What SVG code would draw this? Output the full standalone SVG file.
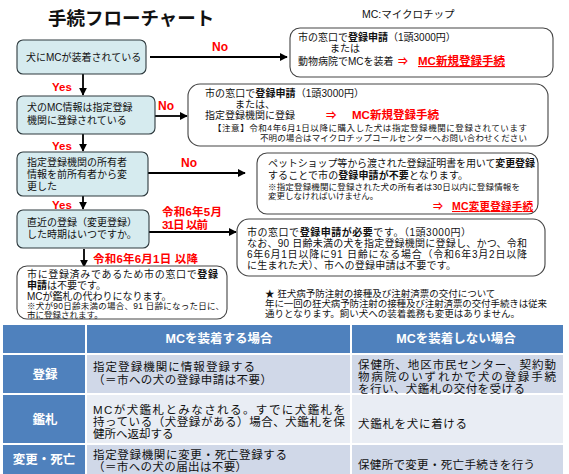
<svg xmlns="http://www.w3.org/2000/svg" width="569" height="474" viewBox="0 0 569 474">
<defs>
<style>
text{font-family:"Liberation Sans","Noto Sans CJK JP",sans-serif;fill:#111}
.q{fill:#d6ebef;stroke:#2e3a3e;stroke-width:1.1}
.r{fill:#fff;stroke:#444;stroke-width:1.1}
.t{font-size:10px}
.s{font-size:8.5px}
.red{fill:#ff0000;font-weight:bold}
.b{font-weight:bold}
.link{fill:#ff0000;font-weight:bold;text-decoration:underline}
.arr{fill:#ff0000;font-weight:bold}
.con{stroke:#000;stroke-width:1.8;fill:none}
.hd{fill:#4f81bd}
.d1{fill:#d0d8e8}
.d2{fill:#e9edf4}
.wt{fill:#fff;font-weight:bold;font-size:12.5px}
.tb{font-size:11.5px}
</style>
<marker id="ah" viewBox="0 0 10 10" refX="9" refY="5" markerWidth="8" markerHeight="8" markerUnits="userSpaceOnUse" orient="auto"><path d="M0,0 L10,5 L0,10 z" fill="#000"/></marker>
</defs>
<rect width="569" height="474" fill="#fff"/>
<g id="title">
<text x="48" y="25" font-size="18.5" font-weight="bold">手続フローチャート</text>
<text x="362" y="18" font-size="10.5">MC:マイクロチップ</text>
</g>
<g id="connectors">
<line class="con" x1="150" y1="57" x2="287" y2="57" marker-end="url(#ah)"/>
<line class="con" x1="83" y1="74" x2="83" y2="95" marker-end="url(#ah)"/>
<line class="con" x1="155" y1="116" x2="187" y2="116" marker-end="url(#ah)"/>
<line class="con" x1="83" y1="134" x2="83" y2="151" marker-end="url(#ah)"/>
<line class="con" x1="148" y1="173" x2="245" y2="173" marker-end="url(#ah)"/>
<line class="con" x1="83" y1="196" x2="83" y2="209" marker-end="url(#ah)"/>
<line class="con" x1="149" y1="232" x2="236" y2="232" marker-end="url(#ah)"/>
<line class="con" x1="84" y1="249" x2="84" y2="267" marker-end="url(#ah)"/>
<text class="red" x="212" y="51" font-size="12">No</text>
<text class="red" x="52" y="91" font-size="11.5">Yes</text>
<text class="red" x="158" y="110" font-size="12">No</text>
<text class="red" x="52" y="150" font-size="11.5">Yes</text>
<text class="red" x="181" y="167" font-size="12">No</text>
<text class="red" x="52" y="209" font-size="11.5">Yes</text>
<text class="red" x="162" y="216" font-size="11.5" textLength="60">令和6年5月</text>
<text class="red" x="162" y="229" font-size="11.5" textLength="46">31日 以前</text>
<text class="red" x="93" y="263" font-size="11.5" textLength="105">令和6年6月1日 以降</text>
</g>
<g id="q1">
<rect class="q" x="17" y="40" width="129" height="34" rx="6"/>
<text class="t" x="26" y="61">犬にMCが装着されている</text>
</g>
<g id="a1">
<rect class="r" x="290" y="28" width="263" height="49" rx="10"/>
<text class="t" x="298" y="41" font-size="9.2">市の窓口で<tspan class="b">登録申請</tspan>（1頭3000円）</text>
<text class="t" x="330" y="52" font-size="9.2">または</text>
<text class="t" x="298" y="65" font-size="9">動物病院でMCを装着</text>
<text class="arr" x="398" y="65" font-size="10">⇒</text>
<text class="link" x="418" y="65" font-size="11.5">MC新規登録手続</text>
</g>
<g id="q2">
<rect class="q" x="17" y="96" width="138" height="38" rx="6"/>
<text class="t" x="27" y="111">犬のMC情報は指定登録</text>
<text class="t" x="27" y="124">機関に登録されている</text>
</g>
<g id="a2">
<rect class="r" x="188" y="84" width="360" height="62" rx="12"/>
<text class="t" x="205" y="97" textLength="159">市の窓口で<tspan class="b">登録申請</tspan>（1頭3000円）</text>
<text class="t" x="235" y="108">または、</text>
<text class="t" x="205" y="119" font-size="10.5">指定登録機関に登録</text>
<text class="arr" x="326" y="119" font-size="10.5">⇒</text>
<text class="red" x="352" y="119" font-size="11.5">MC新規登録手続</text>
<text x="213" y="131" font-size="8.5" textLength="314">【注意】令和4年6月1日以降に購入した犬は指定登録機関に登録されています</text>
<text x="260" y="141" font-size="8.5" textLength="267">不明の場合はマイクロチップコールセンターへお問い合わせください</text>
</g>
<g id="q3">
<rect class="q" x="17" y="152" width="131" height="44" rx="6"/>
<text class="t" x="27" y="166">指定登録機関の所有者</text>
<text class="t" x="27" y="178">情報を前所有者から変</text>
<text class="t" x="27" y="190">更した</text>
</g>
<g id="a3">
<rect class="r" x="257" y="153" width="281" height="61" rx="10"/>
<text class="t" x="268" y="167" textLength="267">ペットショップ等から渡された登録証明書を用いて<tspan class="b">変更登録</tspan></text>
<text class="t" x="268" y="179" textLength="200">することで市の<tspan class="b">登録申請が不要</tspan>となります。</text>
<text class="s" x="268" y="190" textLength="252">※指定登録機関に登録された犬の所有者は30日以内に登録情報を</text>
<text class="s" x="268" y="199">変更しなければいけません。</text>
<text class="arr" x="433" y="210" font-size="10">⇒</text>
<text class="link" x="452" y="210" font-size="10.5" textLength="81">MC変更登録手続</text>
</g>
<g id="q4">
<rect class="q" x="17" y="210" width="132" height="38" rx="6"/>
<text class="t" x="27" y="226">直近の登録（変更登録）</text>
<text class="t" x="27" y="238">した時期はいつですか。</text>
</g>
<g id="a4">
<rect class="r" x="237" y="219" width="308" height="57" rx="12"/>
<text class="t" x="247" y="236" font-size="10.5" textLength="224">市の窓口で<tspan class="b">登録申請が必要</tspan>です。（1頭3000円）</text>
<text class="t" x="247" y="247" font-size="10.5" textLength="280">なお、90 日齢未満の犬を指定登録機関に登録し、かつ、令和</text>
<text class="t" x="247" y="258" font-size="10.5" textLength="280">6年6月1日以降に91 日齢になる場合（令和6年3月2日以降</text>
<text class="t" x="247" y="269" font-size="10.5" textLength="209">に生まれた犬）、市への登録申請は不要です。</text>
</g>
<g id="a5">
<rect class="r" x="17" y="266" width="210" height="53" rx="10"/>
<text class="t" x="27" y="278" font-size="10.5" textLength="191">市に登録済みであるため市の窓口で<tspan class="b">登録</tspan></text>
<text class="t" x="27" y="289" font-size="10.5"><tspan class="b">申請</tspan>は不要です。</text>
<text class="t" x="27" y="300" font-size="10.5">MCが鑑札の代わりになります。</text>
<text class="s" x="27" y="309" font-size="8" textLength="197">※犬が90日齢未満の場合、91 日齢になった日に、</text>
<text class="s" x="27" y="318" font-size="8">市に登録されます。</text>
</g>
<g id="note">
<text x="265" y="297" font-size="9.5">★  狂犬病予防注射の接種及び注射済票の交付について</text>
<text x="265" y="307" font-size="9.5" textLength="282">年に一回の狂犬病予防注射の接種及び注射済票の交付手続きは従来</text>
<text x="265" y="317" font-size="9.5">通りとなります。飼い犬への装着義務も変更はありません。</text>
</g>
<g id="table">
<rect class="hd" x="3" y="325" width="82" height="28"/>
<rect class="hd" x="87" y="325" width="263" height="28"/>
<rect class="hd" x="352" y="325" width="211" height="28"/>
<rect class="hd" x="3" y="355" width="82" height="38"/>
<rect class="d1" x="87" y="355" width="263" height="38"/>
<rect class="d1" x="352" y="355" width="211" height="38"/>
<rect class="hd" x="3" y="395" width="82" height="48"/>
<rect class="d2" x="87" y="395" width="263" height="48"/>
<rect class="d2" x="352" y="395" width="211" height="48"/>
<rect class="hd" x="3" y="445" width="82" height="29"/>
<rect class="d1" x="87" y="445" width="263" height="29"/>
<rect class="d1" x="352" y="445" width="211" height="29"/>
<text class="wt" x="219" y="343" text-anchor="middle">MCを装着する場合</text>
<text class="wt" x="456" y="343" text-anchor="middle">MCを装着しない場合</text>
<text class="wt" x="45" y="379" text-anchor="middle">登録</text>
<text class="wt" x="45" y="424" text-anchor="middle">鑑札</text>
<text class="wt" x="44" y="464" text-anchor="middle" font-size="12">変更・死亡</text>
<text class="tb" x="93" y="371" textLength="162">指定登録機関に情報登録する</text>
<text class="tb" x="93" y="384" textLength="179">（＝市への犬の登録申請は不要）</text>
<text class="tb" x="358" y="369" textLength="198">保健所、地区市民センター、契約動</text>
<text class="tb" x="358" y="381" textLength="198">物病院のいずれかで犬の登録手続</text>
<text class="tb" x="358" y="393" textLength="167">を行い、犬鑑札の交付を受ける</text>
<text class="tb" x="93" y="414" textLength="252">MCが犬鑑札とみなされる。すでに犬鑑札を</text>
<text class="tb" x="93" y="426" textLength="252">持っている（犬登録がある）場合、犬鑑札を保</text>
<text class="tb" x="93" y="438">健所へ返却する</text>
<text class="tb" x="358" y="428" textLength="109">犬鑑札を犬に着ける</text>
<text class="tb" x="93" y="459" textLength="194">指定登録機関に変更・死亡登録する</text>
<text class="tb" x="93" y="471" textLength="154">（＝市への犬の届出は不要）</text>
<text class="tb" x="358" y="469" textLength="177">保健所で変更・死亡手続きを行う</text>
</g>
</svg>
